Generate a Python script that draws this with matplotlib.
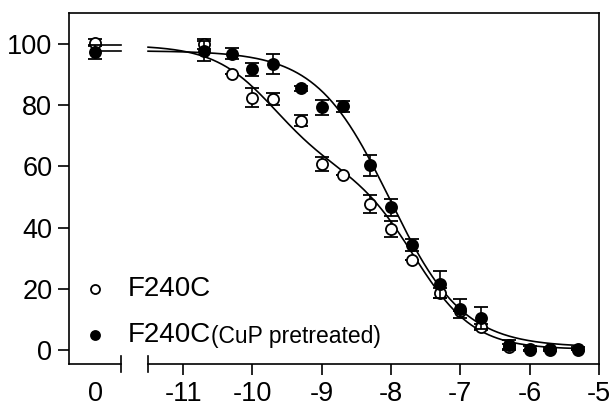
import numpy as np
import matplotlib
matplotlib.use('Agg')
import matplotlib.pyplot as plt

plt.rcParams['font.family'] = ['Liberation Sans', 'DejaVu Sans']

# log concentration (M) of the dose-response points
log_conc = [-10.7, -10.3, -10.0, -9.7, -9.3, -9.0, -8.7, -8.3, -8.0,
            -7.7, -7.3, -7.0, -6.7, -6.3, -6.0, -5.7, -5.3]

# F240C (open circles)
f240c = [99.9, 90.1, 82.4, 81.9, 74.9, 60.9, 57.2, 47.8, 39.5,
         29.3, 18.7, 12.7, 7.6, 1.1, 0.0, 0.0, 0.0]
f240c_err = [1.5, 0.0, 3.0, 2.0, 1.8, 2.3, 0.0, 3.0, 2.5,
             0.0, 1.5, 0.0, 1.0, 1.0, 0.0, 0.0, 0.0]

# F240C, CuP pretreated (filled circles)
f240c_cup = [97.6, 96.7, 91.6, 93.4, 85.5, 79.3, 79.6, 60.3, 46.6,
             34.4, 21.5, 13.6, 10.5, 1.8, 0.5, 0.3, 0.5]
f240c_cup_err = [3.3, 1.8, 2.0, 3.2, 0.8, 2.5, 1.8, 3.3, 2.7,
                 2.0, 4.3, 3.2, 3.6, 1.5, 0.8, 0.5, 0.5]

# control (no drug) values plotted at "0"
ctrl = [100.4, 97.3]
ctrl_err = [1.0, 2.2]

# fitted curve parameters
fit_open = dict(top=99.5, bottom=0.3, frac=0.4, c1=-9.7, c2=-7.66)
fit_cup = dict(top=97.7, bottom=1.0, c=-8.02, h=0.82)

xtick_labels = ['0', '-11', '-10', '-9', '-8', '-7', '-6', '-5']
yticks = [0, 20, 40, 60, 80, 100]

# layout of the broken x axis
X_LEFT = -12.645
CTRL_POS = -12.27
BREAK_L = -11.895
BREAK_R = -11.505
X_RIGHT = -5.0


def two_site(x, top, bottom, frac, c1, c2):
    return bottom + (top - bottom) * (frac / (1 + 10 ** (x - c1)) +
                                      (1 - frac) / (1 + 10 ** (x - c2)))


def hill(x, top, bottom, c, h):
    return bottom + (top - bottom) / (1 + 10 ** ((x - c) * h))


fig = plt.figure(figsize=(6.13, 4.09), dpi=100)
ax = fig.add_axes([0.1126, 0.110, 0.8646, 0.858])

lw = 1.2
xs = np.linspace(BREAK_R, -5.25, 300)
ax.plot(xs, two_site(xs, **fit_open), color='black', lw=lw, zorder=2)
ax.plot(xs, hill(xs, **fit_cup), color='black', lw=lw, zorder=2)
# plateau lines in the control segment
ax.plot([CTRL_POS, BREAK_L], [fit_open['top']] * 2, color='black', lw=lw, zorder=2)
ax.plot([CTRL_POS, BREAK_L], [fit_cup['top']] * 2, color='black', lw=lw, zorder=2)

ebar = dict(fmt='o', ms=8, mec='black', mew=1.3, ecolor='black',
            elinewidth=1.2, capsize=5, capthick=1.2)
ax.errorbar(log_conc, f240c, yerr=f240c_err, mfc='white', zorder=3, **ebar)
ax.errorbar([CTRL_POS], ctrl[:1], yerr=ctrl_err[:1], mfc='white', zorder=3, **ebar)
ax.errorbar(log_conc, f240c_cup, yerr=f240c_cup_err, mfc='black', zorder=4, **ebar)
ax.errorbar([CTRL_POS], ctrl[1:], yerr=ctrl_err[1:], mfc='black', zorder=4, **ebar)

ax.set_xlim(X_LEFT, X_RIGHT)
ax.set_ylim(-4.5, 110)
ax.set_xticks([CTRL_POS] + list(range(-11, -4)))
ax.set_xticklabels(xtick_labels)
ax.set_yticks(yticks)
ax.tick_params(direction='out', length=8, width=1.2, labelsize=19.5, pad=4)
ax.xaxis.get_major_ticks()[0].tick1line.set_visible(False)

for s in ax.spines.values():
    s.set_linewidth(lw)
ax.spines['bottom'].set_bounds(BREAK_R, X_RIGHT)

# left piece of the broken x axis and the break end caps
tr = ax.get_xaxis_transform()
ax.plot([X_LEFT, BREAK_L], [0, 0], transform=tr, color='black', lw=lw, clip_on=False)
for bx in (BREAK_L, BREAK_R):
    ax.plot([bx, bx], [-0.023, 0.023], transform=tr, color='black', lw=lw, clip_on=False)

# legend
ax.plot(0.049, 0.214, 'o', transform=ax.transAxes, mfc='white', mec='black',
        ms=6.5, mew=1.3, clip_on=False)
ax.plot(0.049, 0.083, 'o', transform=ax.transAxes, mfc='black', mec='black',
        ms=6.5, mew=1.3, clip_on=False)
ax.text(0.111, 0.214, 'F240C', transform=ax.transAxes, va='center', fontsize=20)
t2 = ax.text(0.111, 0.083, 'F240C', transform=ax.transAxes, va='center', fontsize=20)
ax.annotate('(CuP pretreated)', xy=(1, 0), xycoords=t2, va='bottom', ha='left',
            fontsize=16.5)

fig.savefig('out.png', dpi=100)
